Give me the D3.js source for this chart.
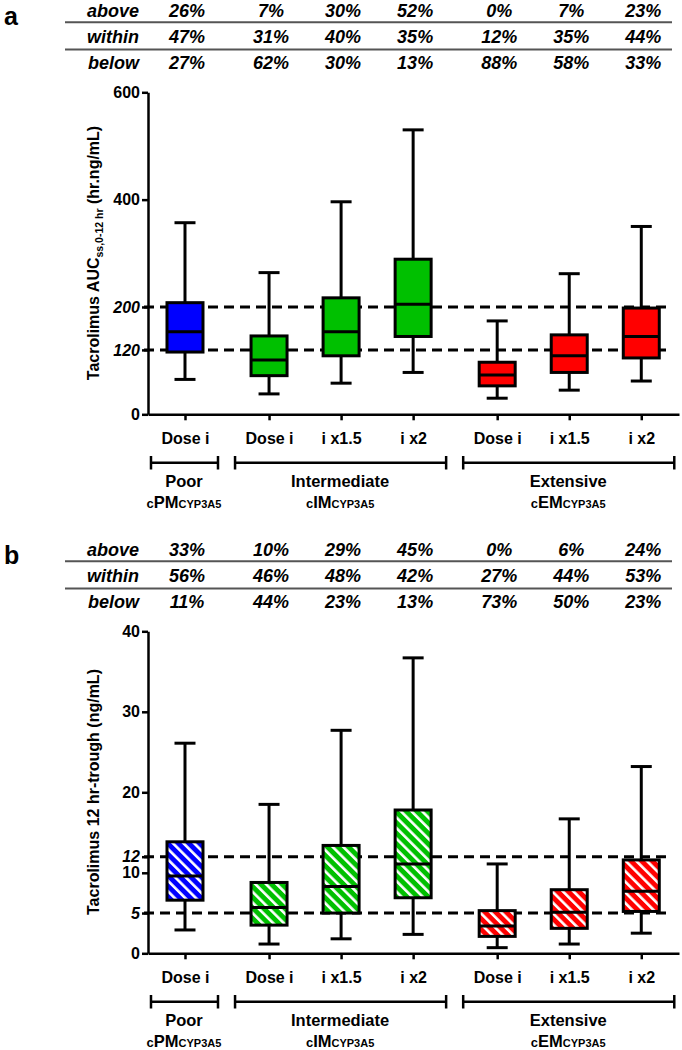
<!DOCTYPE html>
<html><head><meta charset="utf-8">
<script src="https://cdn.jsdelivr.net/npm/d3@7"></script>
<style>body{margin:0;background:#fff}svg{display:block}</style>
</head><body><div id="chart"></div>
<script>
// ---------- data ----------
const categories = ["Dose i","Dose i","i x1.5","i x2","Dose i","i x1.5","i x2"];
const groupOfCategory = [0,1,1,1,2,2,2];
const groupNames = ["Poor","Intermediate","Extensive"];
const groupCodes = ["PM","IM","EM"];
const boxColors = ["#0000ff","#00c000","#00c000","#00c000","#ff0000","#ff0000","#ff0000"];
const rowLabels = ["above","within","below"];

// panel a : AUC
const aucMin    = [65, 38, 58, 78, 30, 45, 62];
const aucQ1     = [116, 72, 109, 145, 53, 78, 105];
const aucMedian = [154, 101, 154, 205, 73, 109, 145];
const aucQ3     = [208, 146, 217, 289, 97, 148, 198];
const aucMax    = [357, 264, 396, 530, 174, 262, 350];
const aucTicks  = [0, 120, 200, 400, 600];
const aucTargets = [120, 200];
const aucAbove  = ["26%","7%","30%","52%","0%","7%","23%"];
const aucWithin = ["47%","31%","40%","35%","12%","35%","44%"];
const aucBelow  = ["27%","62%","30%","13%","88%","58%","33%"];

// panel b : trough
const troughMin    = [2.9, 1.15, 1.8, 2.35, 0.7, 1.15, 2.5];
const troughQ1     = [6.6, 3.5, 5.0, 6.9, 2.1, 3.1, 5.2];
const troughMedian = [9.6, 5.7, 8.3, 11.1, 3.4, 5.1, 7.7];
const troughQ3     = [13.85, 8.8, 13.4, 17.8, 5.3, 7.9, 11.6];
const troughMax    = [26.1, 18.5, 27.7, 36.7, 11.1, 16.7, 23.2];
const troughTicks  = [0, 5, 10, 12, 20, 30, 40];
const troughTargets = [5, 12];
const troughAbove  = ["33%","10%","29%","45%","0%","6%","24%"];
const troughWithin = ["56%","46%","48%","42%","27%","44%","53%"];
const troughBelow  = ["11%","44%","23%","13%","73%","50%","23%"];

// ---------- drawing ----------
const FONT = "'Liberation Sans', Arial, Helvetica, sans-serif";
const svg = d3.select("#chart").append("svg").attr("width", 682).attr("height", 1050)
  .style("font-family", FONT);

const defs = svg.append("defs");
const uniqueColors = Array.from(new Set(boxColors));
uniqueColors.forEach((c, k) => {
  const pat = defs.append("pattern").attr("id", "hatch" + k)
    .attr("patternUnits", "userSpaceOnUse").attr("width", 7.5).attr("height", 7.5)
    .attr("patternTransform", "rotate(-45)");
  pat.append("rect").attr("width", 7.5).attr("height", 7.5).attr("fill", c);
  pat.append("rect").attr("x", 0).attr("width", 2.6).attr("height", 7.5).attr("fill", "#fff");
});

const positions = categories.map((c, i) => i + groupOfCategory[i] * 0.1667);
const x = d3.scaleLinear().domain([-0.5135, 6.857]).range([148, 679]);

const panels = [
  { letter: "a", dy: 0, domain: [0, 600], ticks: aucTicks, targets: aucTargets,
    min: aucMin, q1: aucQ1, med: aucMedian, q3: aucQ3, max: aucMax,
    rows: [aucAbove, aucWithin, aucBelow], hatch: false,
    title: [["Tacrolimus AUC", 0, 16], ["ss,0-12 hr", 4, 10.5], [" (hr.ng/mL)", -4, 16]] },
  { letter: "b", dy: 539, domain: [0, 40], ticks: troughTicks, targets: troughTargets,
    min: troughMin, q1: troughQ1, med: troughMedian, q3: troughQ3, max: troughMax,
    rows: [troughAbove, troughWithin, troughBelow], hatch: true,
    title: [["Tacrolimus 12 hr-trough (ng/mL)", 0, 16]] }
];

panels.forEach(p => {
  const g = svg.append("g").attr("transform", `translate(0,${p.dy})`);
  const y = d3.scaleLinear().domain(p.domain).range([414.3, 92.3]);

  // panel letter
  g.append("text").attr("x", 4).attr("y", 25).text(p.letter)
    .style("font-size", "25px").style("font-weight", "bold");

  // table
  p.rows.forEach((vals, r) => {
    const by = 16.5 + r * 26.2;
    g.append("text").attr("x", 139).attr("y", by).attr("text-anchor", "end")
      .text(rowLabels[r]).style("font-size", "18px").style("font-weight", "bold").style("font-style", "italic");
    g.selectAll(null).data(vals).enter().append("text")
      .attr("x", (d, i) => x(positions[i]) + 2).attr("y", by).attr("text-anchor", "middle")
      .text(d => d).style("font-size", "18px").style("font-weight", "bold").style("font-style", "italic");
  });
  [22.2, 49.5].forEach(ly => {
    g.append("line").attr("x1", 65).attr("x2", 672).attr("y1", ly).attr("y2", ly)
      .attr("stroke", "#555").attr("stroke-width", 2);
  });

  // target dashed lines
  g.selectAll(null).data(p.targets).enter().append("line")
    .attr("x1", 144).attr("x2", 670).attr("y1", d => y(d)).attr("y2", d => y(d))
    .attr("stroke", "#000").attr("stroke-width", 3).attr("stroke-dasharray", "10,6");

  // y axis
  const yAxis = d3.axisLeft(y).tickValues(p.ticks).tickSize(6).tickSizeOuter(0).tickPadding(2)
    .tickFormat(d3.format("d"));
  const ya = g.append("g").attr("transform", "translate(148,0)").call(yAxis);
  ya.select(".domain").attr("stroke-width", 2.5);
  ya.selectAll(".tick line").attr("stroke-width", 2.5);
  ya.selectAll(".tick text").style("font-size", "16px").style("font-weight", "bold")
    .style("font-family", FONT).attr("fill", "#000")
    .style("font-style", d => p.targets.includes(d) ? "italic" : "normal");

  // x axis
  const xAxis = d3.axisBottom(x).tickValues(positions).tickSize(6).tickSizeOuter(0)
    .tickFormat((d, i) => categories[i]);
  const xa = g.append("g").attr("transform", "translate(0,414.3)").call(xAxis);
  xa.select(".domain").attr("stroke-width", 2.5);
  xa.selectAll(".tick line").attr("stroke-width", 2.5);
  xa.selectAll(".tick text").attr("y", 29.7).attr("dy", 0).style("font-size", "16px")
    .style("font-weight", "bold").style("font-family", FONT).attr("fill", "#000");

  // boxes
  const boxes = g.selectAll(null).data(categories).enter().append("g")
    .attr("transform", (d, i) => `translate(${x(positions[i])},0)`);
  boxes.append("line").attr("x1", 0).attr("x2", 0)
    .attr("y1", (d, i) => y(p.max[i])).attr("y2", (d, i) => y(p.min[i]))
    .attr("stroke", "#000").attr("stroke-width", 3);
  [p.max, p.min].forEach(arr => {
    boxes.append("line").attr("x1", -10.5).attr("x2", 10.5)
      .attr("y1", (d, i) => y(arr[i])).attr("y2", (d, i) => y(arr[i]))
      .attr("stroke", "#000").attr("stroke-width", 3);
  });
  boxes.append("rect").attr("x", -18).attr("width", 36)
    .attr("y", (d, i) => y(p.q3[i])).attr("height", (d, i) => y(p.q1[i]) - y(p.q3[i]))
    .attr("fill", (d, i) => p.hatch ? `url(#hatch${uniqueColors.indexOf(boxColors[i])})` : boxColors[i])
    .attr("stroke", "#000").attr("stroke-width", 3);
  boxes.append("line").attr("x1", -18).attr("x2", 18)
    .attr("y1", (d, i) => y(p.med[i])).attr("y2", (d, i) => y(p.med[i]))
    .attr("stroke", "#000").attr("stroke-width", 3);

  // group brackets
  groupNames.forEach((name, gi) => {
    const idx = categories.map((c, i) => i).filter(i => groupOfCategory[i] === gi);
    const x0 = x(positions[idx[0]]) - 34, x1 = x(positions[idx[idx.length - 1]]) + 33;
    const cx = (x(positions[idx[0]]) + x(positions[idx[idx.length - 1]])) / 2;
    g.append("line").attr("x1", x0).attr("x2", x1).attr("y1", 462.7).attr("y2", 462.7)
      .attr("stroke", "#000").attr("stroke-width", 2.5);
    [x0, x1].forEach(xx => g.append("line").attr("x1", xx).attr("x2", xx)
      .attr("y1", 456).attr("y2", 469.5).attr("stroke", "#000").attr("stroke-width", 2.5));
    g.append("text").attr("x", cx - 1).attr("y", 486.7).attr("text-anchor", "middle")
      .text(name).style("font-size", "16.5px").style("font-weight", "bold");
    const t = g.append("text").attr("x", cx - 1).attr("y", 508.3).attr("text-anchor", "middle")
      .style("font-weight", "bold");
    t.append("tspan").text("c").style("font-size", "13px");
    t.append("tspan").text(groupCodes[gi]).style("font-size", "16.5px");
    t.append("tspan").text("CYP3A5").style("font-size", "11px");
  });

  // y title
  const tt = g.append("text").attr("transform", "translate(99,253) rotate(-90)")
    .attr("text-anchor", "middle").style("font-weight", "bold");
  p.title.forEach(([s, dy, fs]) => {
    tt.append("tspan").text(s).attr("dy", dy).style("font-size", fs + "px");
  });
});
</script>
</body></html>
